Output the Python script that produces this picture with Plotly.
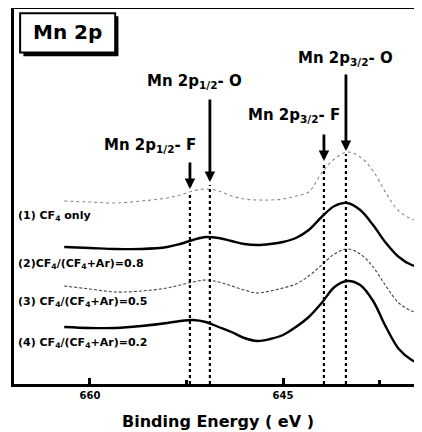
import plotly.graph_objects as go

# ---- data (binding energy in eV, intensity in arbitrary units, stacked) ----
energy = [662, 660, 658, 656, 654, 653, 652, 651, 650, 649, 648, 647, 646,
          645, 644, 643, 642, 641, 640, 639, 638, 637, 636, 635, 634.3]

cf4_only = [183, 182, 181, 183, 186, 189, 193, 195, 193, 188, 185, 184, 184,
            185, 188, 192, 211, 225, 232, 227, 213, 191, 173, 165, 163]
ratio_08 = [137, 136, 135, 135, 137, 140, 144, 147, 146, 143, 140, 139, 140,
            142, 146, 154, 167, 178, 181, 174, 159, 141, 127, 119, 117]
ratio_05 = [98, 95, 92, 93, 96, 99, 102, 104, 102, 98, 94, 91, 93,
            96, 100, 108, 119, 130, 135, 130, 117, 98, 81, 73, 71]
ratio_02 = [57, 56, 56, 58, 61, 63, 64, 62, 57, 52, 46, 43, 45,
            49, 57, 67, 81, 97, 103, 99, 83, 57, 35, 24, 20]

series_labels = ["(1) CF<sub>4</sub> only",
                 "(2)CF<sub>4</sub>/(CF<sub>4</sub>+Ar)=0.8",
                 "(3) CF<sub>4</sub>/(CF<sub>4</sub>+Ar)=0.5",
                 "(4) CF<sub>4</sub>/(CF<sub>4</sub>+Ar)=0.2"]
series_label_y = [168, 120, 82, 41]

peak_names = ["Mn 2p<sub>1/2</sub>- F", "Mn 2p<sub>1/2</sub>- O",
              "Mn 2p<sub>3/2</sub>- F", "Mn 2p<sub>3/2</sub>- O"]
peak_energy = [652.23, 650.68, 641.82, 640.11]
arrow_tip = [195, 202, 223, 233]
arrow_tail = [223, 286, 251, 311]
peak_label_x = [655.3, 651.85, 644.15, 640.15]
peak_label_y = [239, 303, 269, 326]

tick_vals = [660, 645]
minor_ticks = [652.5, 637.5]

FONT = "DejaVu Sans"

fig = go.Figure()
styles = [dict(color="#8a8a8a", width=1.1, dash="dot"),
          dict(color="black", width=2.4),
          dict(color="#444444", width=1.1, dash="3px,2px"),
          dict(color="black", width=2.4)]
for ys, st in zip([cf4_only, ratio_08, ratio_05, ratio_02], styles):
    fig.add_trace(go.Scatter(x=energy, y=ys, mode="lines",
                             line=dict(shape="spline", smoothing=1.0, **st),
                             hoverinfo="skip", showlegend=False))

shapes = []
annotations = []
for e, tip, tail, name, lx, ly in zip(peak_energy, arrow_tip, arrow_tail,
                                      peak_names, peak_label_x, peak_label_y):
    shapes.append(dict(type="line", xref="x", yref="y", x0=e, x1=e, y0=0,
                       y1=tip - 3, line=dict(color="black", width=2.2, dash="dot")))
    annotations.append(dict(x=e, y=tip, xref="x", yref="y", ax=e, ay=tail,
                            axref="x", ayref="y", text="", showarrow=True,
                            arrowhead=2, arrowsize=0.75, arrowwidth=2.8,
                            arrowcolor="black"))
    annotations.append(dict(x=lx, y=ly, xref="x", yref="y", text=f"<b>{name}</b>",
                            showarrow=False, xanchor="center", yanchor="middle",
                            font=dict(family=FONT, size=15, color="black")))

for lab, ly in zip(series_labels, series_label_y):
    annotations.append(dict(x=0.006, y=ly, xref="paper", yref="y",
                            text=f"<b>{lab}</b>", showarrow=False,
                            xanchor="left", yanchor="middle",
                            font=dict(family=FONT, size=11, color="black")))

# title box "Mn 2p" with shadow
shapes.append(dict(type="rect", xref="paper", yref="paper",
                   x0=0.0230, x1=0.2560, y0=0.8740, y1=0.9810,
                   fillcolor="black", line=dict(width=0)))
shapes.append(dict(type="rect", xref="paper", yref="paper",
                   x0=0.0150, x1=0.2480, y0=0.8840, y1=0.9890,
                   fillcolor="white", line=dict(color="black", width=2)))
annotations.append(dict(x=0.130, y=0.940, xref="paper", yref="paper",
                        text="<b>Mn 2p</b>", showarrow=False,
                        xanchor="center", yanchor="middle",
                        font=dict(family=FONT, size=20, color="black")))

annotations.append(dict(x=0.5, y=-0.100, xref="paper", yref="paper",
                        text="<b>Binding Energy ( eV )</b>", showarrow=False,
                        xanchor="center", yanchor="middle",
                        font=dict(family=FONT, size=16, color="black")))

fig.update_layout(
    width=414, height=424,
    margin=dict(l=6, r=0, t=1, b=48, autoexpand=False),
    paper_bgcolor="white", plot_bgcolor="white",
    shapes=shapes, annotations=annotations,
    xaxis=dict(range=[665.9, 634.2], showgrid=False, zeroline=False,
               showline=True, linecolor="black", linewidth=3, mirror=True,
               ticks="inside", ticklen=6, tickwidth=3, tickcolor="black",
               tickvals=tick_vals, ticktext=[f"<b>{v}</b>" for v in tick_vals],
               tickfont=dict(family=FONT, size=10, color="black"),
               minor=dict(tickvals=minor_ticks, ticks="inside", ticklen=4,
                          tickwidth=3, tickcolor="black")),
    yaxis=dict(range=[0, 375], showgrid=False, zeroline=False,
               showline=True, linecolor="black", linewidth=3, mirror=False,
               showticklabels=False, ticks=""),
)

fig.write_html("out.html")
